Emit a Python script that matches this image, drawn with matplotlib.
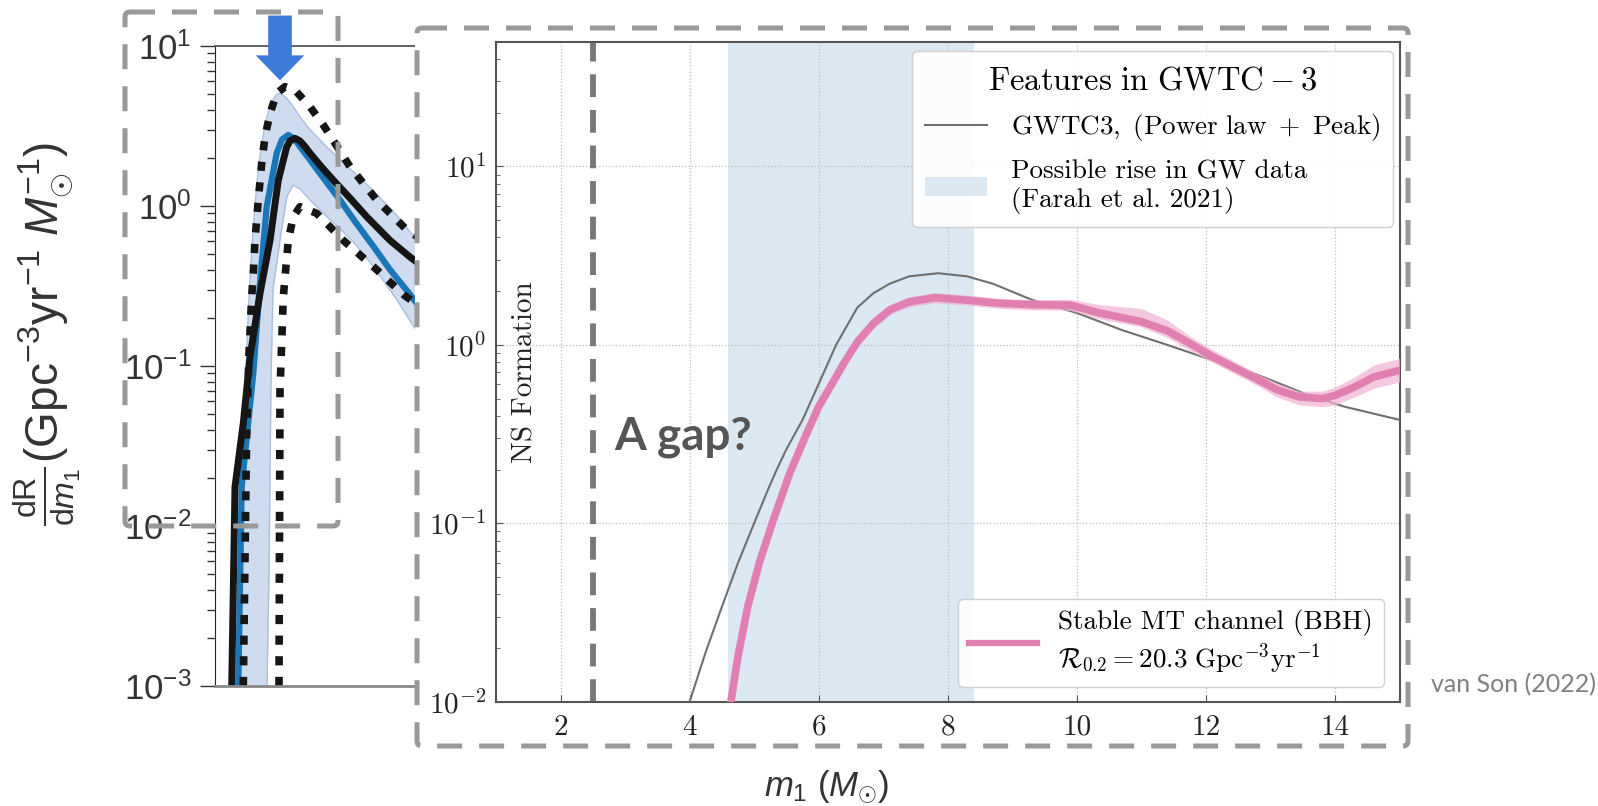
import numpy as np
import matplotlib
matplotlib.use("Agg")
import matplotlib.pyplot as plt
from matplotlib.patches import Rectangle, FancyBboxPatch, Patch
from matplotlib.lines import Line2D
from matplotlib.ticker import LogLocator, NullFormatter

# cm for the inset figure, Liberation Sans ("custom") for the background figure
plt.rcParams['mathtext.fontset'] = 'cm'
plt.rcParams['mathtext.rm'] = 'Liberation Sans'
plt.rcParams['mathtext.it'] = 'Liberation Sans:italic'
plt.rcParams['mathtext.bf'] = 'Liberation Sans:bold'

# ---- data: main (inset) panel ----
gwtc3_m = [4.0, 4.25, 4.5, 4.75, 5.0, 5.2, 5.35, 5.5, 5.75, 5.95, 6.27, 6.6, 6.85, 7.1,
           7.4, 7.85, 8.3, 8.7, 9.3, 10.0, 10.7, 11.4, 12.1, 12.8, 13.6, 14.15, 15.0]
gwtc3_rate = [0.01, 0.019, 0.034, 0.06, 0.1, 0.15, 0.2, 0.26, 0.38, 0.55, 1.0, 1.62, 1.95,
              2.2, 2.42, 2.52, 2.42, 2.2, 1.79, 1.51, 1.21, 1.0, 0.82, 0.68, 0.52, 0.45, 0.38]

stable_m = [4.64, 4.75, 4.9, 5.08, 5.28, 5.55, 5.8, 6.0, 6.19, 6.4, 6.61, 6.85, 7.1, 7.4,
            7.8, 8.3, 8.8, 9.3, 9.9, 10.35, 11.0, 11.4, 11.75, 12.1, 12.8, 13.1, 13.45,
            13.8, 14.0, 14.3, 14.6, 15.0]
stable_rate = [0.01, 0.018, 0.034, 0.06, 0.1, 0.19, 0.31, 0.45, 0.59, 0.8, 1.05, 1.32,
               1.57, 1.74, 1.84, 1.78, 1.71, 1.68, 1.67, 1.51, 1.35, 1.2, 1.02, 0.86, 0.64,
               0.56, 0.51, 0.50, 0.52, 0.58, 0.66, 0.72]
stable_hi = [0.0105, 0.019, 0.036, 0.064, 0.106, 0.2, 0.33, 0.48, 0.63, 0.85, 1.12, 1.41,
             1.68, 1.86, 1.97, 1.9, 1.82, 1.79, 1.8, 1.68, 1.6, 1.38, 1.12, 0.94, 0.69,
             0.61, 0.55, 0.55, 0.58, 0.66, 0.77, 0.84]
stable_lo = [0.0095, 0.017, 0.032, 0.056, 0.094, 0.18, 0.29, 0.42, 0.55, 0.75, 0.98, 1.23,
             1.47, 1.63, 1.72, 1.67, 1.6, 1.57, 1.56, 1.4, 1.26, 1.1, 0.93, 0.8, 0.59,
             0.51, 0.46, 0.45, 0.46, 0.51, 0.57, 0.62]

rise_range = (4.6, 8.4)
ns_mass = 2.5
main_xticks = [2, 4, 6, 8, 10, 12, 14]
main_yticks = [1e-2, 1e-1, 1e0, 1e1]
main_ylabels = [r'$10^{-2}$', r'$10^{-1}$', r'$10^{0}$', r'$10^{1}$']

# ---- data: background (GWTC-3) panel, x in arbitrary units ----
black_x = [16.7, 20, 28.3, 35, 45, 55, 63.3, 71.7, 75, 80, 85, 90, 95, 105, 118.3, 135,
           151.7, 175, 195, 203]
black_y = [1e-3, 0.0176, 0.044, 0.114, 0.284, 0.61, 1.45, 2.34, 2.55, 2.65, 2.55, 2.35,
           2.14, 1.8, 1.45, 1.12, 0.857, 0.61, 0.48, 0.44]

blue_x = [23.3, 26.7, 38.3, 45, 51.7, 61.7, 67, 73.3, 80, 85, 95, 110, 125, 140, 158.3,
          175, 195, 203]
blue_y = [1e-3, 0.0176, 0.09, 0.33, 0.99, 2.14, 2.6, 2.78, 2.6, 2.35, 1.94, 1.45, 1.09,
          0.8, 0.56, 0.4, 0.28, 0.24]

upper_x = [28.3, 31.7, 34, 36.7, 38.3, 40, 43.3, 46.7, 50, 55, 61.7, 70, 80, 95, 108.3,
           135, 161.7, 191.7, 203]
upper_y = [1e-3, 0.04, 0.12, 0.27, 0.38, 0.61, 1.09, 1.85, 2.71, 3.79, 5.06, 5.57, 5.3,
           4.17, 3.21, 1.76, 1.09, 0.71, 0.64]

lower_x = [64, 65, 68.3, 73.3, 78.3, 85, 101.7, 128.3, 161.7, 188.3, 203]
lower_y = [1e-3, 0.07, 0.27, 0.61, 0.857, 0.99, 0.90, 0.61, 0.40, 0.28, 0.24]

band_x = [22, 26, 30, 34, 38, 42, 46, 50, 52, 54, 56, 58, 62, 66, 72, 78, 85, 95, 110,
          125, 140, 158, 180, 203]
band_hi = [1e-3, 0.02, 0.07, 0.27, 0.7, 1.4, 2.3, 3.2, 3.6, 4.0, 4.3, 4.6, 5.0, 5.05,
           4.7, 4.2, 3.6, 3.0, 2.4, 1.95, 1.6, 1.25, 0.9, 0.6]
band_lo = [1e-3, 1e-3, 1e-3, 1e-3, 1e-3, 1e-3, 1e-3, 1e-3, 1e-3, 0.005, 0.08, 0.3, 0.45,
           0.68, 1.15, 1.35, 1.28, 1.09, 0.88, 0.72, 0.58, 0.42, 0.27, 0.16]
left_yticks = [1e-3, 1e-2, 1e-1, 1e0, 1e1]
left_ylabels = [r'$10^{-3}$', r'$10^{-2}$', r'$10^{-1}$', r'$10^{0}$', r'$10^{1}$']
arrow_x, arrow_tip, arrow_tail = 65, 6.1, 15.5

W, H = 1598, 806
fig = plt.figure(figsize=(W / 100, H / 100), dpi=100)


def px_box(x0, y0, x1, y1):
    # pixel box (top-left origin) -> figure fraction rect
    return [x0 / W, 1 - y1 / H, (x1 - x0) / W, (y1 - y0) / H]


# ---------------- background panel ----------------
axl = fig.add_axes(px_box(215, 46, 417, 686))
axl.set_zorder(1)
axl.set_yscale('log')
axl.set_xlim(0, 202)
axl.set_ylim(1e-3, 10)
axl.fill_between(band_x, band_lo, band_hi, color='#cfdcef', lw=0)
axl.plot(band_x, band_hi, color='#a9bedf', lw=1)
axl.plot(band_x[8:], band_lo[8:], color='#a9bedf', lw=1)
axl.plot(blue_x, blue_y, color='#1a76b6', lw=4.5, solid_capstyle='butt')
axl.plot(black_x, black_y, color='#151515', lw=5, solid_capstyle='butt')
axl.plot(upper_x, upper_y, color='#151515', lw=5.5, ls=(0, (1.2, 1.5)))
axl.plot(lower_x, lower_y, color='#151515', lw=5.5, ls=(0, (1.2, 1.5)))
axl.annotate('', xy=(arrow_x, arrow_tip), xytext=(arrow_x, arrow_tail),
             arrowprops=dict(width=17, headwidth=35, headlength=18, shrink=0,
                             facecolor='#3c7bd9', edgecolor='none'),
             annotation_clip=False)
axl.set_xticks([])
axl.set_yticks(left_yticks)
axl.set_yticklabels(left_ylabels, fontsize=25, color='#333333', math_fontfamily='custom')
axl.yaxis.set_minor_locator(LogLocator(base=10, subs=np.arange(2, 10)))
axl.yaxis.set_minor_formatter(NullFormatter())
axl.tick_params(axis='y', which='major', direction='out', length=11, width=1, pad=6, color='#333333')
axl.tick_params(axis='y', which='minor', direction='out', length=6, width=1, color='#333333')
axl.spines['right'].set_visible(False)
axl.spines['left'].set_color('#222222')
axl.spines['top'].set_color('#555555')
axl.spines['top'].set_linewidth(1.3)
axl.spines['bottom'].set_color('#888888')
axl.spines['bottom'].set_linewidth(2)

fig.text(47 / W, 1 - 334 / H,
         r'$\frac{\mathrm{dR}}{\mathrm{d}m_1}$(Gpc$^{-3}$yr$^{-1}$ $M_{\odot}^{-1}$)',
         rotation=90, ha='center', va='center', fontsize=33, color='#333333',
         family='Liberation Sans', math_fontfamily='custom')
fig.text(826 / W, 1 - 787 / H, r'$m_1\ (M_{\odot})$', ha='center', va='center',
         fontsize=25, color='#333333', math_fontfamily='custom')

# white card behind the inset
fig.add_artist(Rectangle((415 / W, 1 - 748 / H), (1410 - 415) / W, (748 - 27) / H,
                         transform=fig.transFigure, facecolor='white', edgecolor='none', zorder=2))

# ---------------- inset panel ----------------
ax = fig.add_axes(px_box(496, 41.7, 1399.5, 701.7))
ax.set_zorder(3)
ax.set_yscale('log')
ax.set_xlim(1, 15)
ax.set_ylim(1e-2, 50)
ax.set_axisbelow(True)
ax.grid(True, which='major', ls=':', color='#bdbdbd', lw=0.9)
ax.axvspan(*rise_range, color='#dce9f2', lw=0, zorder=0.2)
ax.axvline(ns_mass, color='#777777', lw=4.2, ls=(0, (3.9, 2.2)), zorder=2)
ax.plot(gwtc3_m, gwtc3_rate, color='#707070', lw=1.5, zorder=3)
ax.fill_between(stable_m, stable_lo, stable_hi, color='#f0b3d2', alpha=0.7, lw=0, zorder=3)
ax.plot(stable_m, stable_rate, color='#e27fb1', lw=5.5, zorder=4)

ax.text(1.46, 0.70, 'NS Formation', rotation=90, ha='center', va='center',
        fontsize=21, family='cmr10', color='#222222')
ax.text(2.83, 0.258, 'A gap?', ha='left', va='baseline', fontsize=33,
        family='Lato', weight='bold', color='#555555')

ax.set_xticks(main_xticks)
ax.set_xticklabels([str(t) for t in main_xticks], fontsize=21, family='cmr10', color='#222222')
ax.set_yticks(main_yticks)
ax.set_yticklabels(main_ylabels, fontsize=21, color='#222222')
ax.yaxis.set_minor_locator(LogLocator(base=10, subs=np.arange(2, 10)))
ax.yaxis.set_minor_formatter(NullFormatter())
ax.tick_params(which='major', direction='in', length=5, color='#555555')
ax.tick_params(which='minor', direction='in', length=3, color='#555555')
ax.tick_params(axis='x', pad=9)
ax.tick_params(axis='y', pad=7)
for s in ax.spines.values():
    s.set_color('#555555')
    s.set_linewidth(1.5)

h1 = [Line2D([], [], color='#707070', lw=1.5),
      Patch(facecolor='#dce9f2', edgecolor='none')]
l1 = [r'$\mathrm{GWTC3,\ (Power\ law\ +\ Peak)}$',
      'Possible rise in GW data\n(Farah et al. 2021)']
leg1 = ax.legend(h1, l1, title=r'$\mathrm{Features\ in\ GWTC-3}$', loc='upper right',
                 bbox_to_anchor=(0.9928, 0.9859), borderaxespad=0, fancybox=True,
                 edgecolor='#cccccc', framealpha=0.9, handlelength=2.3, handletextpad=0.9,
                 labelspacing=0.6, borderpad=0.45,
                 prop={'family': 'cmr10', 'size': 19.5}, title_fontsize=23.5)
leg1.set_zorder(6)
ax.add_artist(leg1)

h2 = [Line2D([], [], color='#e27fb1', lw=4.5)]
l2 = ['Stable MT channel (BBH)\n' + r'$\mathcal{R}_{0.2} = 20.3\ \mathrm{Gpc}^{-3}\mathrm{yr}^{-1}$']
leg2 = ax.legend(h2, l2, loc='lower right', bbox_to_anchor=(0.9828, 0.0223), borderaxespad=0,
                 fancybox=True, edgecolor='#cccccc', framealpha=0.9, handlelength=2.5,
                 handletextpad=0.8, prop={'family': 'cmr10', 'size': 19.5})
leg2.set_zorder(6)

# ---------------- dashed frames ----------------
ov = fig.add_axes([0, 0, 1, 1])
ov.set_zorder(4)
ov.set_xlim(0, W)
ov.set_ylim(H, 0)
ov.axis('off')
for (x0, y0, x1, y1) in [(125, 12, 338, 526), (417, 28, 1408, 746)]:
    ov.add_patch(FancyBboxPatch((x0, y0), x1 - x0, y1 - y0,
                                boxstyle='round,pad=0,rounding_size=5', fill=False,
                                edgecolor='#999999', lw=3.6, ls=(0, (5.0, 3.4))))

fig.text(1596 / W, 1 - 685 / H, 'van Son (2022)', ha='right', va='center', fontsize=18,
         family='Lato', color='#808080')

fig.savefig('out.png', dpi=100)
